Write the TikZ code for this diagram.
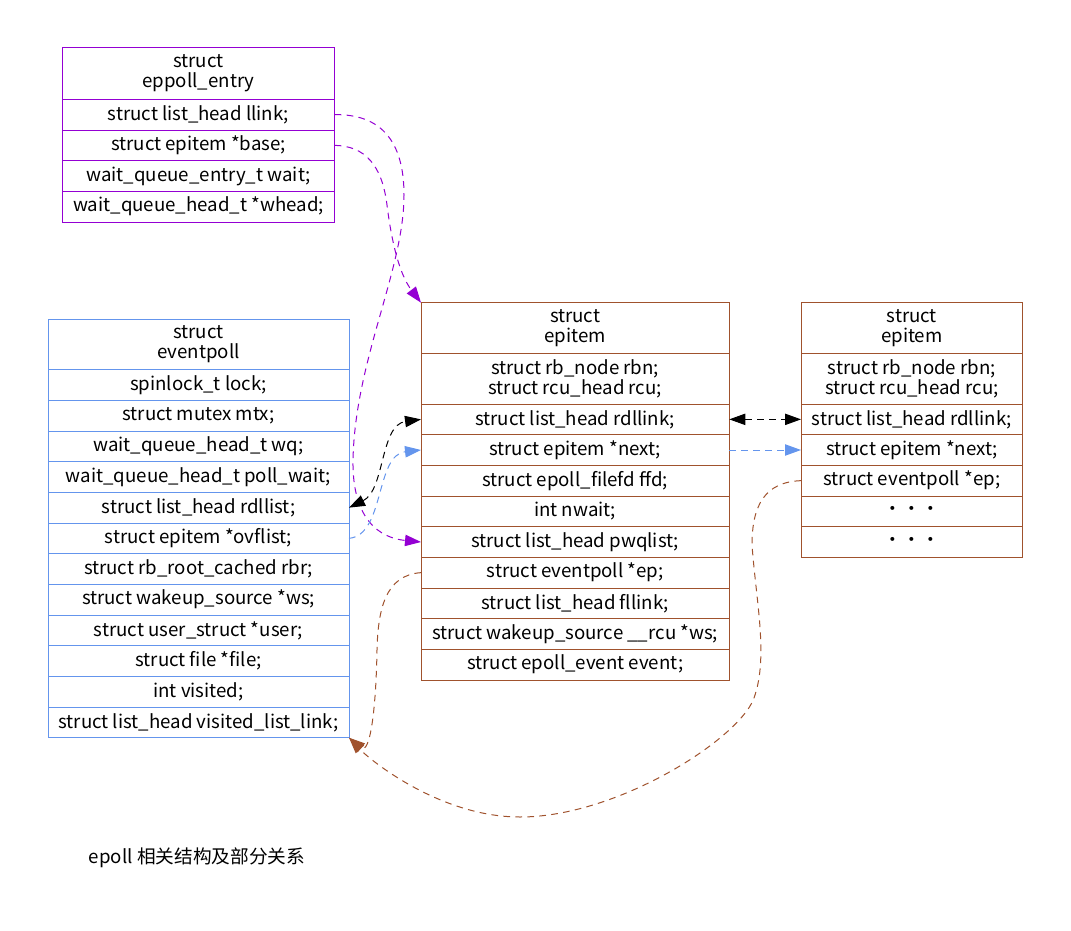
\documentclass[tikz,border=0pt]{standalone}
\usepackage{fontspec}
\setmainfont{Noto Sans CJK SC}
\usetikzlibrary{arrows.meta}
\definecolor{purp}{HTML}{9400D3}
\definecolor{cblue}{HTML}{6495ED}
\definecolor{sienna}{HTML}{A0522D}
\newcommand\rowbox[7]{\node[#1, minimum width={(#4-#2)*0.75pt}, minimum height={(#5-#3)*0.75pt}] (#6) at ({(#2+#4)/2},{(#3+#5)/2}) {#7};}
\newcommand\threedots{\makebox[14pt]{·}\makebox[14pt]{·}\makebox[14pt]{·}}
\begin{document}
\begin{tikzpicture}[x=0.75pt,y=-0.75pt,
  cell/.style={draw, rectangle, inner sep=0pt, outer sep=0pt, line width=0.75pt, align=center,
    font=\fontsize{14}{15}\selectfont, text=black},
  pcell/.style={cell, draw=purp},
  bcell/.style={cell, draw=cblue},
  scell/.style={cell, draw=sienna},
  lnk/.style={line width=0.75pt, dash pattern=on 5pt off 4pt},
  tip/.tip={Triangle[length=12pt,width=8.5pt]},
  pe/.style={lnk, draw=purp, -{tip}, purp},
  ke/.style={lnk, draw=black, {tip}-{tip}},
  ce/.style={lnk, draw=cblue, -{tip}, cblue},
  se/.style={lnk, draw=sienna, -{tip}, sienna}
]
\useasboundingbox (0,0) rectangle (1071,931);

% eppoll_entry
\rowbox{pcell}{62.3}{48}{334.7}{99.3}{pe_h}{struct\\eppoll\_entry}
\rowbox{pcell}{62.3}{99.3}{334.7}{130}{pe_llink}{struct list\_head llink;}
\rowbox{pcell}{62.3}{130}{334.7}{160.7}{pe_base}{struct epitem *base;}
\rowbox{pcell}{62.3}{160.7}{334.7}{191.3}{pe_wait}{wait\_queue\_entry\_t wait;}
\rowbox{pcell}{62.3}{191.3}{334.7}{222}{pe_whead}{wait\_queue\_head\_t *whead;}

% eventpoll
\rowbox{bcell}{48}{319}{349}{369.7}{ep_h}{struct\\eventpoll}
\rowbox{bcell}{48}{369.7}{349}{400.3}{ep_lock}{spinlock\_t lock;}
\rowbox{bcell}{48}{400.3}{349}{431}{ep_mtx}{struct mutex mtx;}
\rowbox{bcell}{48}{431}{349}{461.7}{ep_wq}{wait\_queue\_head\_t wq;}
\rowbox{bcell}{48}{461.7}{349}{492.3}{ep_pw}{wait\_queue\_head\_t poll\_wait;}
\rowbox{bcell}{48}{492.3}{349}{523}{ep_rdl}{struct list\_head rdllist;}
\rowbox{bcell}{48}{523}{349}{553.7}{ep_ovf}{struct epitem *ovflist;}
\rowbox{bcell}{48}{553.7}{349}{584.3}{ep_rbr}{struct rb\_root\_cached rbr;}
\rowbox{bcell}{48}{584.3}{349}{615}{ep_ws}{struct wakeup\_source *ws;}
\rowbox{bcell}{48}{615}{349}{645.7}{ep_user}{struct user\_struct *user;}
\rowbox{bcell}{48}{645.7}{349}{676.3}{ep_file}{struct file *file;}
\rowbox{bcell}{48}{676.3}{349}{707}{ep_visited}{int visited;}
\rowbox{bcell}{48}{707}{349}{737.7}{ep_vll}{struct list\_head visited\_list\_link;}

% epitem
\rowbox{scell}{421}{302.7}{729.3}{353}{ei_h}{struct\\epitem}
\rowbox{scell}{421}{353}{729.3}{404}{ei_rbn}{struct rb\_node rbn;\\struct rcu\_head rcu;}
\rowbox{scell}{421}{404}{729.3}{434.7}{ei_rdl}{struct list\_head rdllink;}
\rowbox{scell}{421}{434.7}{729.3}{465.3}{ei_next}{struct epitem *next;}
\rowbox{scell}{421}{465.3}{729.3}{496}{ei_ffd}{struct epoll\_filefd ffd;}
\rowbox{scell}{421}{496}{729.3}{526.7}{ei_nwait}{int nwait;}
\rowbox{scell}{421}{526.7}{729.3}{557.3}{ei_pwq}{struct list\_head pwqlist;}
\rowbox{scell}{421}{557.3}{729.3}{588}{ei_ep}{struct eventpoll *ep;}
\rowbox{scell}{421}{588}{729.3}{618.7}{ei_fl}{struct list\_head fllink;}
\rowbox{scell}{421}{618.7}{729.3}{649.3}{ei_ws}{struct wakeup\_source \_\_rcu *ws;}
\rowbox{scell}{421}{649.3}{729.3}{680}{ei_ev}{struct epoll\_event event;}

% epitem 2
\rowbox{scell}{801}{302.7}{1022.7}{353}{ej_h}{struct\\epitem}
\rowbox{scell}{801}{353}{1022.7}{404}{ej_rbn}{struct rb\_node rbn;\\struct rcu\_head rcu;}
\rowbox{scell}{801}{404}{1022.7}{434.7}{ej_rdl}{struct list\_head rdllink;}
\rowbox{scell}{801}{434.7}{1022.7}{465.3}{ej_next}{struct epitem *next;}
\rowbox{scell}{801}{465.3}{1022.7}{496}{ej_ep}{struct eventpoll *ep;}
\rowbox{scell}{801}{496}{1022.7}{526.7}{ej_d1}{\threedots}
\rowbox{scell}{801}{526.7}{1022.7}{557.3}{ej_d2}{\threedots}

% caption
\node[font=\fontsize{14}{15}\selectfont, inner sep=0pt] (cap) at (197,858) {epoll 相关结构及部分关系};

% edges
\draw[pe] (pe_llink.east) .. controls (380,114) and (404,140) .. (404,195)
  .. controls (404,270) and (355,360) .. (353,460)
  .. controls (352,520) and (380,538) .. (ei_pwq.west);
\draw[pe] (pe_base.east) .. controls (365,146) and (382,165) .. (387,205)
  .. controls (392,245) and (400,275) .. (ei_h.north west);
\draw[ke] (ep_rdl.east) .. controls (385,490) and (380,425) .. (ei_rdl.west);
\draw[ce] (ep_ovf.east) .. controls (385,535) and (375,455) .. (ei_next.west);
\draw[ke] (ei_rdl.east) -- (ej_rdl.west);
\draw[ce] (ei_next.east) -- (ej_next.west);
\draw[se] (ei_ep.west) .. controls (385,575) and (378,610) .. (377,650)
  .. controls (376,710) and (370,755) .. (ep_vll.south east);
\draw[se] (ej_ep.west) .. controls (765,482) and (752,505) .. (752,545)
  .. controls (756,600) and (768,655) .. (755,695)
  .. controls (745,735) and (620,817) .. (520,817)
  .. controls (440,817) and (370,760) .. (ep_vll.south east);
\end{tikzpicture}
\end{document}
